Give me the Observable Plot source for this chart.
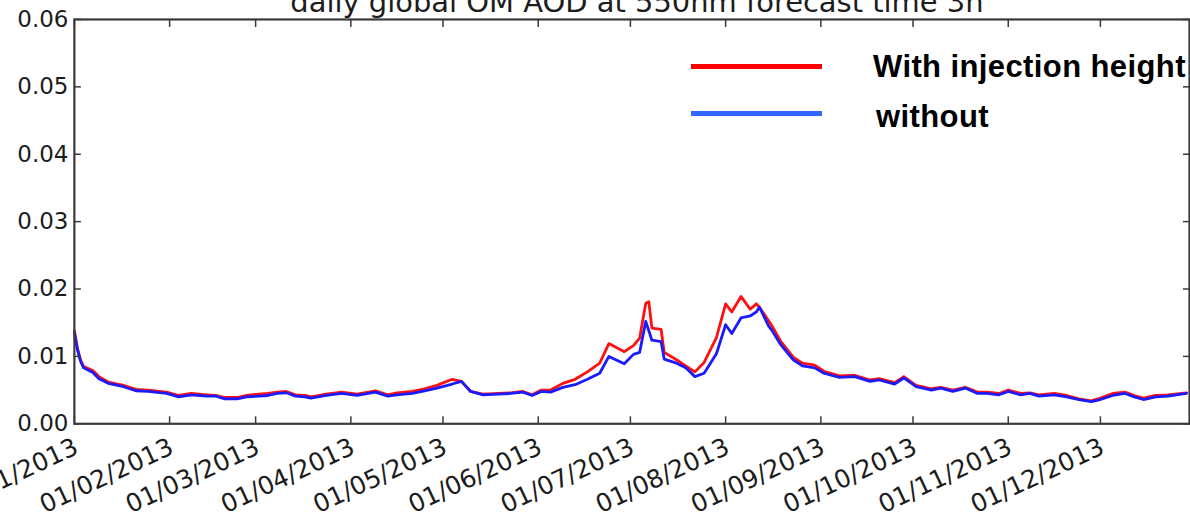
<!DOCTYPE html>
<html>
<head>
<meta charset="utf-8">
<script src="https://cdn.jsdelivr.net/npm/d3@7"></script>
<script src="https://cdn.jsdelivr.net/npm/@observablehq/plot@0.6"></script>
<style>
  html, body { margin: 0; padding: 0; background: #fff; overflow: hidden; }
  #wrap { position: relative; width: 1190px; height: 519px; overflow: hidden; }
  #legend { position: absolute; left: 0; top: 0; font-family: "Liberation Sans", Arial, sans-serif; font-weight: bold; color: #000; }
  .lg-line { position: absolute; height: 5px; }
  .lg-text { position: absolute; font-size: 31px; letter-spacing: 0.4px; line-height: 1; white-space: nowrap; }
</style>
</head>
<body>
<div id="wrap"><div id="chart"></div><div id="legend"></div></div>
<script>
// ---- data ----
const title = "daily global OM AOD at 550nm forecast time 3h";
const seriesNames = ["With injection height", "without"];
const seriesColors = ["#ff1010", "#1a1aff"];
const legendColors = ["#ff0000", "#3366ff"];

const dates = [
  "2013-01-01","2013-01-02","2013-01-03","2013-01-04","2013-01-07","2013-01-09","2013-01-12","2013-01-17",
  "2013-01-21","2013-01-25","2013-01-31","2013-02-04","2013-02-08","2013-02-13","2013-02-16","2013-02-19",
  "2013-02-23","2013-02-26","2013-03-02","2013-03-05","2013-03-08","2013-03-11","2013-03-14","2013-03-17",
  "2013-03-19","2013-03-24","2013-03-29","2013-04-03","2013-04-09","2013-04-13","2013-04-16","2013-04-21",
  "2013-04-25","2013-04-29","2013-05-04","2013-05-07","2013-05-10","2013-05-14","2013-05-19","2013-05-23",
  "2013-05-27","2013-05-30","2013-06-02","2013-06-05","2013-06-09","2013-06-13","2013-06-17","2013-06-21",
  "2013-06-24","2013-06-29","2013-07-02","2013-07-04","2013-07-06","2013-07-07","2013-07-08","2013-07-11",
  "2013-07-12","2013-07-16","2013-07-19","2013-07-22","2013-07-25","2013-07-29","2013-08-01","2013-08-03",
  "2013-08-06","2013-08-09","2013-08-11","2013-08-12","2013-08-15","2013-08-16","2013-08-19","2013-08-23",
  "2013-08-26","2013-08-30","2013-09-02","2013-09-07","2013-09-12","2013-09-17","2013-09-20","2013-09-25",
  "2013-09-28","2013-10-02","2013-10-07","2013-10-10","2013-10-14","2013-10-18","2013-10-22","2013-10-25",
  "2013-10-29","2013-11-01","2013-11-05","2013-11-08","2013-11-11","2013-11-16","2013-11-20","2013-11-24",
  "2013-11-28","2013-12-01","2013-12-05","2013-12-09","2013-12-12","2013-12-15","2013-12-19","2013-12-23",
  "2013-12-29"
];

const withInjection = [
  0.0138,0.0112,0.0095,0.0085,0.0079,0.0070,0.0062,0.0057,
  0.0051,0.0050,0.0047,0.0042,0.0045,0.0043,0.0042,0.0039,
  0.0039,0.0042,0.0044,0.0045,0.0047,0.0048,0.0043,0.0042,
  0.0040,0.0044,0.0047,0.0044,0.0049,0.0043,0.0046,0.0048,
  0.0052,0.0057,0.0066,0.0063,0.0048,0.0044,0.0045,0.0046,
  0.0048,0.0043,0.0050,0.0050,0.0060,0.0066,0.0077,0.0090,
  0.0119,0.0107,0.0116,0.0127,0.0179,0.0181,0.0142,0.0140,
  0.0106,0.0095,0.0086,0.0077,0.0091,0.0128,0.0178,0.0166,
  0.0189,0.0170,0.0178,0.0173,0.0153,0.0146,0.0122,0.0099,
  0.0090,0.0087,0.0078,0.0071,0.0072,0.0065,0.0067,0.0061,
  0.0070,0.0057,0.0052,0.0054,0.0050,0.0054,0.0047,0.0047,
  0.0045,0.0050,0.0045,0.0046,0.0043,0.0045,0.0042,0.0037,
  0.0034,0.0038,0.0045,0.0047,0.0042,0.0038,0.0042,0.0043,
  0.0046
];

const withoutInjection = [
  0.0135,0.0110,0.0093,0.0083,0.0076,0.0067,0.0060,0.0055,
  0.0049,0.0048,0.0045,0.0040,0.0043,0.0041,0.0041,0.0037,
  0.0037,0.0040,0.0041,0.0042,0.0045,0.0046,0.0041,0.0040,
  0.0038,0.0042,0.0045,0.0042,0.0047,0.0041,0.0043,0.0045,
  0.0049,0.0053,0.0059,0.0063,0.0048,0.0043,0.0044,0.0045,
  0.0047,0.0042,0.0048,0.0047,0.0054,0.0058,0.0066,0.0075,
  0.0100,0.0089,0.0103,0.0106,0.0152,0.0138,0.0124,0.0122,
  0.0096,0.0090,0.0083,0.0070,0.0075,0.0104,0.0147,0.0134,
  0.0157,0.0160,0.0166,0.0173,0.0145,0.0139,0.0117,0.0095,
  0.0086,0.0083,0.0075,0.0069,0.0070,0.0063,0.0065,0.0059,
  0.0068,0.0055,0.0050,0.0053,0.0048,0.0053,0.0045,0.0045,
  0.0043,0.0048,0.0043,0.0045,0.0041,0.0043,0.0040,0.0036,
  0.0033,0.0036,0.0042,0.0045,0.0040,0.0036,0.0040,0.0041,
  0.0045
];

const yTicks = [0, 0.01, 0.02, 0.03, 0.04, 0.05, 0.06];
const xTickDates = ["2013-01-01","2013-02-01","2013-03-01","2013-04-01","2013-05-01","2013-06-01",
                    "2013-07-01","2013-08-01","2013-09-01","2013-10-01","2013-11-01","2013-12-01"];
const xTickLabels = ["01/01/2013","01/02/2013","01/03/2013","01/04/2013","01/05/2013","01/06/2013",
                     "01/07/2013","01/08/2013","01/09/2013","01/10/2013","01/11/2013","01/12/2013"];
const xDomain = ["2013-01-01", "2013-12-30"];

// ---- build tables ----
const rows = [];
[withInjection, withoutInjection].forEach((vals, s) => {
  dates.forEach((d, i) => rows.push({date: new Date(d), value: vals[i], series: seriesNames[s]}));
});
const tickDates = xTickDates.map(d => new Date(d));
const axisColor = "#3a3a3a";
const labelColor = "#1c1c1c";

const chart = Plot.plot({
  width: 1192,
  height: 519,
  marginLeft: 74,
  marginRight: 1,
  marginTop: 19,
  marginBottom: 95,
  style: {fontFamily: "'DejaVu Sans', sans-serif", fontSize: "23px", color: labelColor, background: "white", overflow: "visible"},
  x: {type: "utc", domain: xDomain.map(d => new Date(d)), label: null},
  y: {domain: [0, 0.06], label: null},
  color: {domain: seriesNames, range: seriesColors},
  marks: [
    Plot.line(rows.filter(r => r.series === seriesNames[0]), {x: "date", y: "value", stroke: "series", strokeWidth: 2.8, curve: "linear"}),
    Plot.line(rows.filter(r => r.series === seriesNames[1]), {x: "date", y: "value", stroke: "series", strokeWidth: 2.8, curve: "linear"}),
    Plot.frame({stroke: axisColor, strokeWidth: 2.2}),
    // inward ticks on all sides
    Plot.axisY({anchor: "left", ticks: yTicks, tickSize: -7, text: null, stroke: axisColor, strokeWidth: 1.5}),
    Plot.axisY({anchor: "right", ticks: yTicks, tickSize: -7, text: null, stroke: axisColor, strokeWidth: 1.5}),
    Plot.axisX({anchor: "bottom", ticks: tickDates, tickSize: -7, text: null, stroke: axisColor, strokeWidth: 1.5}),
    Plot.axisX({anchor: "top", ticks: tickDates, tickSize: -7, text: null, stroke: axisColor, strokeWidth: 1.5}),
    // tick labels
    Plot.axisY({anchor: "left", ticks: yTicks, tickSize: 0, tickPadding: 6, tickFormat: d3.format(".2f"), fill: labelColor, fontSize: 23}),
    Plot.text(xTickLabels, {x: (d, i) => tickDates[i], text: d => d, frameAnchor: "bottom",
      rotate: -25, textAnchor: "end", lineAnchor: "top", dx: -2, dy: 13, fill: labelColor, fontSize: 25}),
    // title (cut off at top as in the reference)
    Plot.text([title], {frameAnchor: "top", text: d => d, lineAnchor: "bottom", dy: -7, dx: 5, fontSize: 29, fill: labelColor})
  ]
});
document.getElementById("chart").appendChild(chart);

// ---- legend (inside plot, top right) ----
const legend = document.getElementById("legend");
const lgLines = [{left: 691, top: 64}, {left: 691, top: 111}];
const lgTexts = [{left: 873, top: 51}, {left: 876, top: 101}];
seriesNames.forEach((name, i) => {
  const ln = document.createElement("div");
  ln.className = "lg-line";
  ln.style.left = lgLines[i].left + "px";
  ln.style.top = lgLines[i].top + "px";
  ln.style.width = "131px";
  ln.style.background = legendColors[i];
  legend.appendChild(ln);
  const tx = document.createElement("div");
  tx.className = "lg-text";
  tx.style.left = lgTexts[i].left + "px";
  tx.style.top = lgTexts[i].top + "px";
  tx.textContent = name;
  legend.appendChild(tx);
});
</script>
</body>
</html>
